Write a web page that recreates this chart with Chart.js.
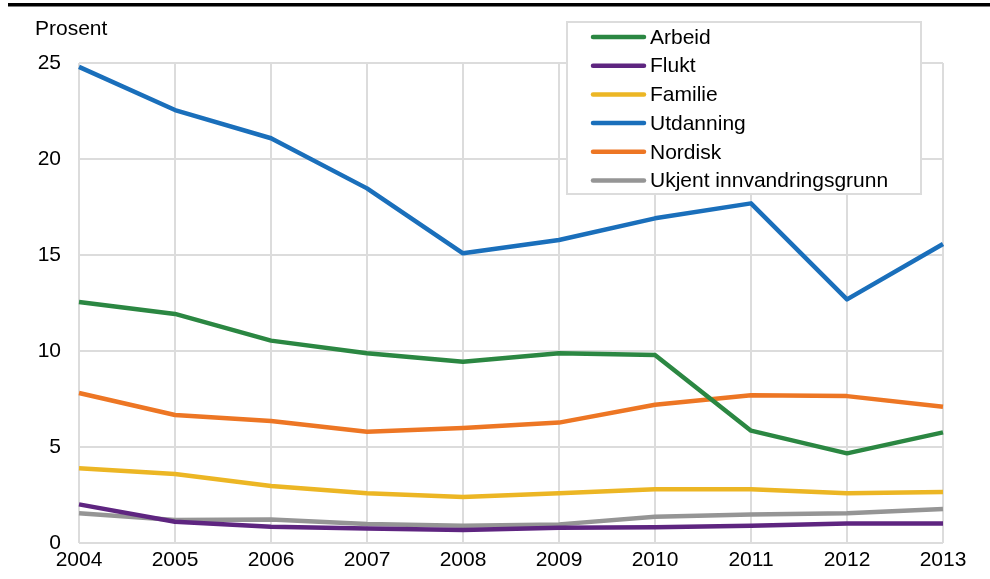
<!DOCTYPE html>
<html>
<head>
<meta charset="utf-8">
<script src="https://cdn.jsdelivr.net/npm/chart.js@4/dist/chart.umd.min.js"></script>
<style>
  html, body { margin: 0; padding: 0; background: #fff; }
  #wrap { width: 990px; height: 579px; position: relative; }
</style>
</head>
<body>
<div id="wrap"><canvas id="chart"></canvas></div>
<script>
// Data
var years = ['2004', '2005', '2006', '2007', '2008', '2009', '2010', '2011', '2012', '2013'];
var arbeid    = [12.55, 11.93, 10.54, 9.88, 9.44, 9.88, 9.79, 5.85, 4.67, 5.76];
var flukt     = [2.01, 1.11, 0.85, 0.76, 0.68, 0.80, 0.82, 0.90, 1.02, 1.02];
var familie   = [3.89, 3.59, 2.97, 2.59, 2.40, 2.59, 2.80, 2.80, 2.59, 2.66];
var utdanning = [24.8, 22.55, 21.08, 18.47, 15.09, 15.78, 16.91, 17.69, 12.69, 15.57];
var nordisk   = [7.81, 6.67, 6.35, 5.80, 5.99, 6.27, 7.20, 7.70, 7.65, 7.10];
var ukjent    = [1.55, 1.20, 1.23, 0.99, 0.90, 0.97, 1.37, 1.49, 1.55, 1.77];
var yTicks = [0, 5, 10, 15, 20, 25];

var FONT = '"Liberation Sans", Arial, sans-serif';
var GRID = '#dcdcdc';

function ds(label, data, color) {
  return {
    label: label, data: data, borderColor: color, backgroundColor: color,
    borderWidth: 4.5, pointRadius: 0, tension: 0, fill: false,
    borderCapStyle: 'butt', borderJoinStyle: 'round'
  };
}

// legend box inside the plot + title + top rule
var extras = {
  id: 'extras',
  afterDraw: function(chart) {
    var ctx = chart.ctx;
    ctx.save();
    // top rule
    ctx.fillStyle = '#000';
    ctx.fillRect(8, 3, 982, 3.5);
    // axis title
    ctx.font = '21px ' + FONT;
    ctx.fillStyle = '#000';
    ctx.textAlign = 'left';
    ctx.textBaseline = 'middle';
    ctx.fillText('Prosent', 35, 29);
    // legend
    var bx = 567, by = 22, bw = 354, bh = 172;
    ctx.fillStyle = '#fff';
    ctx.fillRect(bx, by, bw, bh);
    ctx.strokeStyle = GRID;
    ctx.lineWidth = 2;
    ctx.strokeRect(bx, by, bw, bh);
    chart.data.datasets.forEach(function(d, i) {
      var y = 37 + i * 28.7;
      ctx.strokeStyle = d.borderColor;
      ctx.lineWidth = 4.5;
      ctx.lineCap = 'round';
      ctx.beginPath();
      ctx.moveTo(593, y);
      ctx.lineTo(644, y);
      ctx.stroke();
      ctx.fillStyle = '#000';
      ctx.fillText(d.label, 650, y + 1);
    });
    ctx.restore();
  }
};

new Chart(document.getElementById('chart'), {
  type: 'line',
  data: {
    labels: years,
    datasets: [
      ds('Arbeid', arbeid, '#2b8742'),
      ds('Flukt', flukt, '#5e2580'),
      ds('Familie', familie, '#ecb624'),
      ds('Utdanning', utdanning, '#1a6fbb'),
      ds('Nordisk', nordisk, '#ed7624'),
      ds('Ukjent innvandringsgrunn', ukjent, '#959595')
    ]
  },
  plugins: [extras],
  options: {
    responsive: true,
    maintainAspectRatio: false,
    animation: false,
    layout: { padding: { top: 63, right: 47, left: 0, bottom: 0 } },
    plugins: { legend: { display: false }, tooltip: { enabled: false } },
    scales: {
      x: {
        offset: false,
        grid: { color: GRID, lineWidth: 2, drawTicks: false },
        border: { display: false },
        ticks: { color: '#000', font: { family: FONT, size: 21 }, padding: 5, maxRotation: 0, autoSkip: false },
        afterFit: function(s) { s.height = 36; }
      },
      y: {
        min: 0, max: 25,
        grid: { color: GRID, lineWidth: 2, drawTicks: false },
        border: { display: false },
        afterBuildTicks: function(s) { s.ticks = yTicks.map(function(v) { return { value: v }; }); },
        ticks: { color: '#000', font: { family: FONT, size: 21 }, padding: 18 },
        afterFit: function(s) { s.width = 79; }
      }
    }
  }
});
</script>
</body>
</html>
